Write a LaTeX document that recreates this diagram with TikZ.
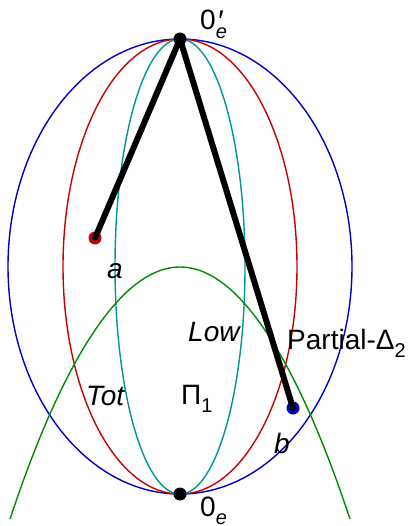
\documentclass[tikz,border=0pt]{standalone}
\usepackage{fontspec}
\setmainfont{Liberation Sans}
\usetikzlibrary{positioning}
\definecolor{outerblue}{HTML}{0000C8}
\definecolor{midred}{HTML}{C80000}
\definecolor{innerteal}{HTML}{009696}
\definecolor{parabgreen}{HTML}{008C00}
\newcommand{\lowsub}[1]{\raisebox{-0.3em}{\fontsize{20}{20}\selectfont #1}}

\begin{document}
\begin{tikzpicture}[
    x=1pt, y=-1pt,
    every node/.style={font=\fontsize{28}{32}\selectfont, inner sep=0pt},
    curve/.style={line width=1.4pt},
    seg/.style={line width=6pt, line cap=round},
    pointdot/.style={circle, minimum size=13pt, inner sep=0pt},
  ]
  \useasboundingbox (0,0) rectangle (416,526);

  % --- Points ---
  \coordinate (top) at (180,39);
  \coordinate (bot) at (180,494);
  \coordinate (mid) at (180,266.5);
  \coordinate (pa) at (95,238);
  \coordinate (pb) at (293,408);
  \coordinate (gl) at (10,519);
  \coordinate (gv) at (180,267);
  \coordinate (gr) at (350,519);

  % --- Ellipses ---
  \draw[curve, outerblue] (mid) ellipse [x radius=172pt, y radius=227.5pt];
  \draw[curve, midred] (mid) ellipse [x radius=117pt, y radius=227.5pt];
  \draw[curve, innerteal] (mid) ellipse [x radius=65pt, y radius=227.5pt];

  % --- Parabola ---
  \draw[curve, parabgreen] (gl) parabola bend (gv) (gr);

  % --- Dots and segments ---
  \node[pointdot, fill=midred] (dota) at (pa) {};
  \node[pointdot, fill=outerblue] (dotb) at (pb) {};
  \draw[seg] (top) -- (dota.center);
  \draw[seg] (top) -- (dotb.center);
  \node[pointdot, fill=black] (dottop) at (top) {};
  \node[pointdot, fill=black] (dotbot) at (bot) {};

  % --- Labels ---
  \node[anchor=base west] (ltop) at (200,30)
    {0\rlap{\kern1pt\raisebox{-0.05em}{\fontsize{30}{30}\selectfont\textit{′}}}\lowsub{\textit{e}}};
  \node[anchor=base west] (lbot) at (200,516) {0\lowsub{\textit{e}}};
  \node[anchor=base west] (la) at (107,278) {\textit{a}};
  \node[anchor=base west] (lb) at (274,453) {\textit{b}};
  \node[anchor=base west] (llow) at (188,341) {\textit{Low}};
  \node[anchor=base west] (lpart) at (287,349) {Partial-Δ\lowsub{2}};
  \node[anchor=base west] (ltot) at (86,405) {\textit{Tot}};
  \node[anchor=base west] (lpi) at (181,404) {Π\lowsub{1}};

\end{tikzpicture}
\end{document}
